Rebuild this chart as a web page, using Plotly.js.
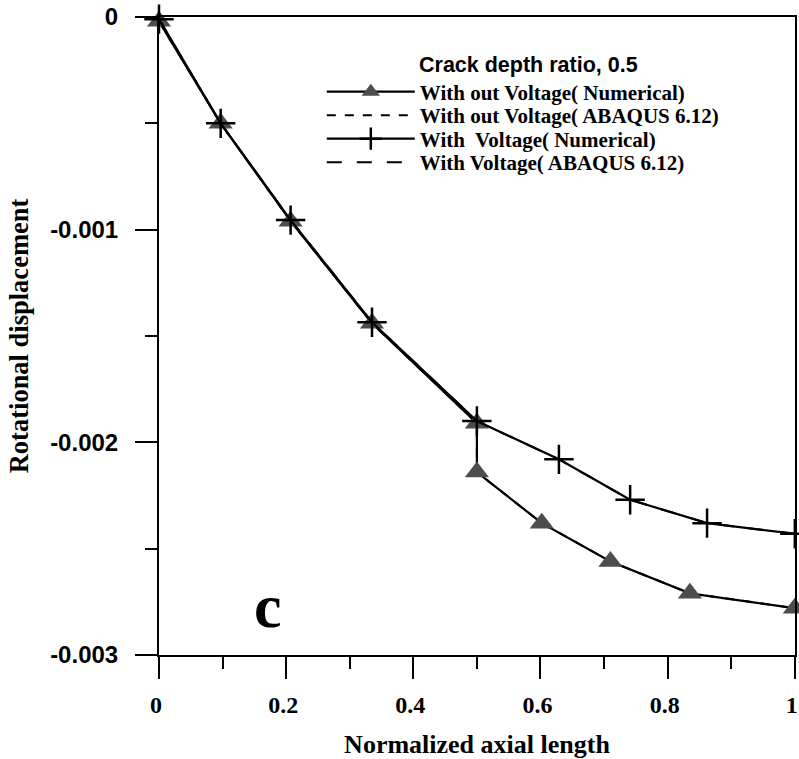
<!DOCTYPE html>
<html>
<head>
<meta charset="utf-8">
<script src="https://cdn.plot.ly/plotly-3.0.1.min.js"></script>
<style>html,body{margin:0;padding:0;background:#fff;}#chart{width:799px;height:759px;}</style>
</head>
<body>
<div id="chart"></div>
<script>
// ---- data ----
var withoutVoltageX = [0, 0.097, 0.207, 0.335, 0.5, 0.5, 0.602, 0.71, 0.835, 1.0];
var withoutVoltageY = [-0.00002, -0.0005, -0.00096, -0.00144, -0.00191, -0.00214, -0.00238, -0.00256, -0.00271, -0.00278];
var withVoltageX = [0, 0.097, 0.207, 0.335, 0.5, 0.629, 0.741, 0.862, 1.0];
var withVoltageY = [-0.00001, -0.0005, -0.000955, -0.001435, -0.0019, -0.00208, -0.00227, -0.00238, -0.00243];
// ABAQUS results coincide with the numerical curves in the figure
var abaqusWithoutX = withoutVoltageX.slice();
var abaqusWithoutY = withoutVoltageY.slice();
var abaqusWithX = withVoltageX.slice();
var abaqusWithY = withVoltageY.slice();

var seriesNames = ["With out Voltage( Numerical)", "With out Voltage( ABAQUS 6.12)", "With  Voltage( Numerical)", "With Voltage( ABAQUS 6.12)"];
var yTickVals = [0, -0.001, -0.002, -0.003];
var yTickText = ["0", "-0.001", "-0.002", "-0.003"];
var xTickVals = [0, 0.2, 0.4, 0.6, 0.8, 1];
var xTickText = ["0", "0.2", "0.4", "0.6", "0.8", "1"];
var legendTitle = "Crack depth ratio, 0.5";
var panelLabel = "c";

var serif = "Liberation Serif, Times New Roman, serif";
var sans = "Liberation Sans, Arial, sans-serif";

var traces = [
  {x: abaqusWithoutX, y: abaqusWithoutY, name: seriesNames[1], mode: "lines", legend: "legend2",
   line: {color: "#000", width: 2, dash: "dash"}, cliponaxis: false},
  {x: abaqusWithX, y: abaqusWithY, name: seriesNames[3], mode: "lines", legend: "legend4",
   line: {color: "#000", width: 2, dash: "longdash"}, cliponaxis: false},
  {x: withoutVoltageX, y: withoutVoltageY, name: seriesNames[0], mode: "lines+markers", legend: "legend",
   line: {color: "#000", width: 2.2}, marker: {symbol: "triangle-up", size: 21, color: "#4d4d4d"}, cliponaxis: false},
  {x: withVoltageX, y: withVoltageY, name: seriesNames[2], mode: "lines+markers", legend: "legend3",
   line: {color: "#000", width: 2.2}, marker: {symbol: "cross-thin-open", size: 21, line: {color: "#000", width: 2.5}}, cliponaxis: false}
];

function leg(yc) {
  return {x: 0.256, y: yc, xanchor: "left", yanchor: "middle", bgcolor: "rgba(0,0,0,0)",
          itemwidth: 88, font: {family: serif, size: 21, color: "#000", weight: "bold"}};
}

var layout = {
  width: 799, height: 759,
  margin: {l: 159, r: 4, t: 17, b: 104},
  paper_bgcolor: "#fff", plot_bgcolor: "#fff",
  showlegend: true,
  legend: leg(0.8824), legend2: leg(0.8456), legend3: leg(0.8088), legend4: leg(0.7719),
  xaxis: {
    range: [0, 1.0003], tickmode: "array", tickvals: xTickVals, ticktext: xTickText,
    ticks: "outside", ticklen: 22, tickwidth: 2, tickcolor: "#000",
    minor: {dtick: 0.1, ticks: "outside", ticklen: 12, tickwidth: 2, tickcolor: "#000"},
    showline: true, linewidth: 2, linecolor: "#000", mirror: true,
    showgrid: false, zeroline: false, ticklabelstandoff: 5, ticklabelshift: -3, ticklabeloverflow: "allow",
    tickfont: {family: serif, size: 24, color: "#000", weight: "bold"},
    title: {text: "Normalized axial length", standoff: 18, font: {family: serif, size: 26, color: "#000", weight: "bold"}}
  },
  yaxis: {
    range: [-0.003, 0], tickmode: "array", tickvals: yTickVals, ticktext: yTickText,
    ticks: "outside", ticklen: 22, tickwidth: 2, tickcolor: "#000",
    minor: {dtick: 0.0005, ticks: "outside", ticklen: 12, tickwidth: 2, tickcolor: "#000"},
    showline: true, linewidth: 2, linecolor: "#000", mirror: true,
    showgrid: false, zeroline: false, ticklabelstandoff: 12,
    tickfont: {family: sans, size: 24, color: "#000", weight: "bold"},
    title: {text: "Rotational displacement", standoff: 14, font: {family: serif, size: 26.5, color: "#000", weight: "bold"}}
  },
  annotations: [
    {xref: "paper", yref: "paper", x: 0.406, y: 0.925, xanchor: "left", yanchor: "middle", showarrow: false,
     text: legendTitle, font: {family: sans, size: 21.5, color: "#000", weight: "bold"}},
    {xref: "paper", yref: "paper", x: 0.171, y: 0.077, xanchor: "center", yanchor: "middle", showarrow: false,
     text: panelLabel, font: {family: serif, size: 62, color: "#000", weight: "bold"}}
  ]
};

Plotly.newPlot("chart", traces, layout, {displayModeBar: false, staticPlot: true});
</script>
</body>
</html>
